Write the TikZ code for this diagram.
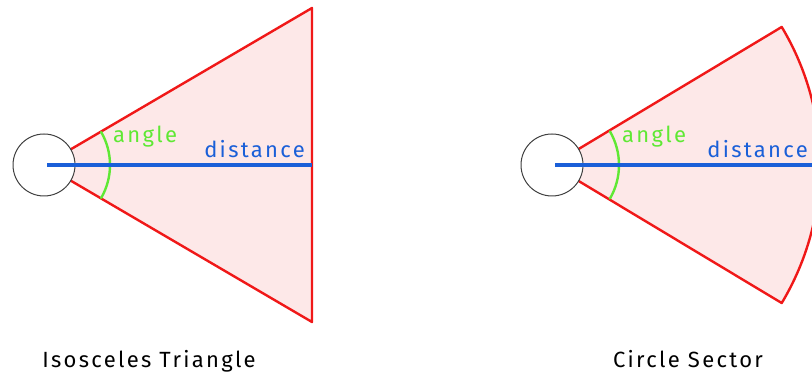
\documentclass[tikz,border=0pt]{standalone}
\usepackage{fontspec}
\setmainfont{Fira Sans}
\newfontfamily\spaced[LetterSpace=10.5]{Fira Sans}
\usepackage{xcolor}
\definecolor{conered}{HTML}{F01818}
\definecolor{conefill}{HTML}{FDE8E8}
\definecolor{distblue}{HTML}{1A5FD8}
\definecolor{anglegreen}{HTML}{5FE834}
\usetikzlibrary{calc}

\begin{document}
\begin{tikzpicture}[
  x=1pt, y=1pt,
  line cap=round,
  line join=round,
  cone/.style={draw=conered, fill=conefill, line width=2.4pt},
  dist/.style={draw=distblue, line width=4pt, line cap=butt},
  anglearc/.style={draw=anglegreen, line width=2.4pt},
  agent/.style={circle, draw=black!75, fill=white, line width=1pt, minimum size=62pt, inner sep=0pt},
  anglelabel/.style={text=anglegreen, font=\spaced\fontsize{22}{22}\selectfont, inner sep=0pt},
  distlabel/.style={text=distblue, font=\spaced\fontsize{22}{22}\selectfont, inner sep=0pt},
  caption/.style={font=\spaced\fontsize{22}{22}\selectfont, inner sep=0pt}
]
  \useasboundingbox (0,0) rectangle (812,374);
  \clip (0,0) rectangle (812,374);

  % Isosceles triangle
  \coordinate (O1) at (44,209);
  \coordinate (T1) at (312,366);
  \coordinate (B1) at (312,52);
  \coordinate (E1) at (312,209);
  \path[cone] (O1) -- (T1) -- (B1) -- cycle;
  \draw[anglearc] ($(O1)+(-30:66)$) arc[start angle=-30, end angle=30, radius=66];
  \node[agent] (A1) at (O1) {};
  \draw[dist] ($(O1)+(3,0)$) -- (E1);
  \node[anglelabel, anchor=base west] (ang1) at (113,231) {angle};
  \node[distlabel, anchor=base east] (dst1) at (305,216) {distance};

  % Circle sector
  \coordinate (O2) at (552,209);
  \coordinate (E2) at (821,209);
  \path[cone] (O2) -- ++(31:268) arc[start angle=31, end angle=-31, radius=268] -- cycle;
  \draw[anglearc] ($(O2)+(-30:67)$) arc[start angle=-30, end angle=30, radius=67];
  \node[agent] (A2) at (O2) {};
  \draw[dist] ($(O2)+(3,0)$) -- (E2);
  \node[anglelabel, anchor=base west] (ang2) at (622,231) {angle};
  \node[distlabel, anchor=base east] (dst2) at (808,216) {distance};

  % Captions
  \node[caption, anchor=base] (cap1) at (149,6) {Isosceles Triangle};
  \node[caption, anchor=base] (cap2) at (688,6) {Circle Sector};
\end{tikzpicture}
\end{document}
